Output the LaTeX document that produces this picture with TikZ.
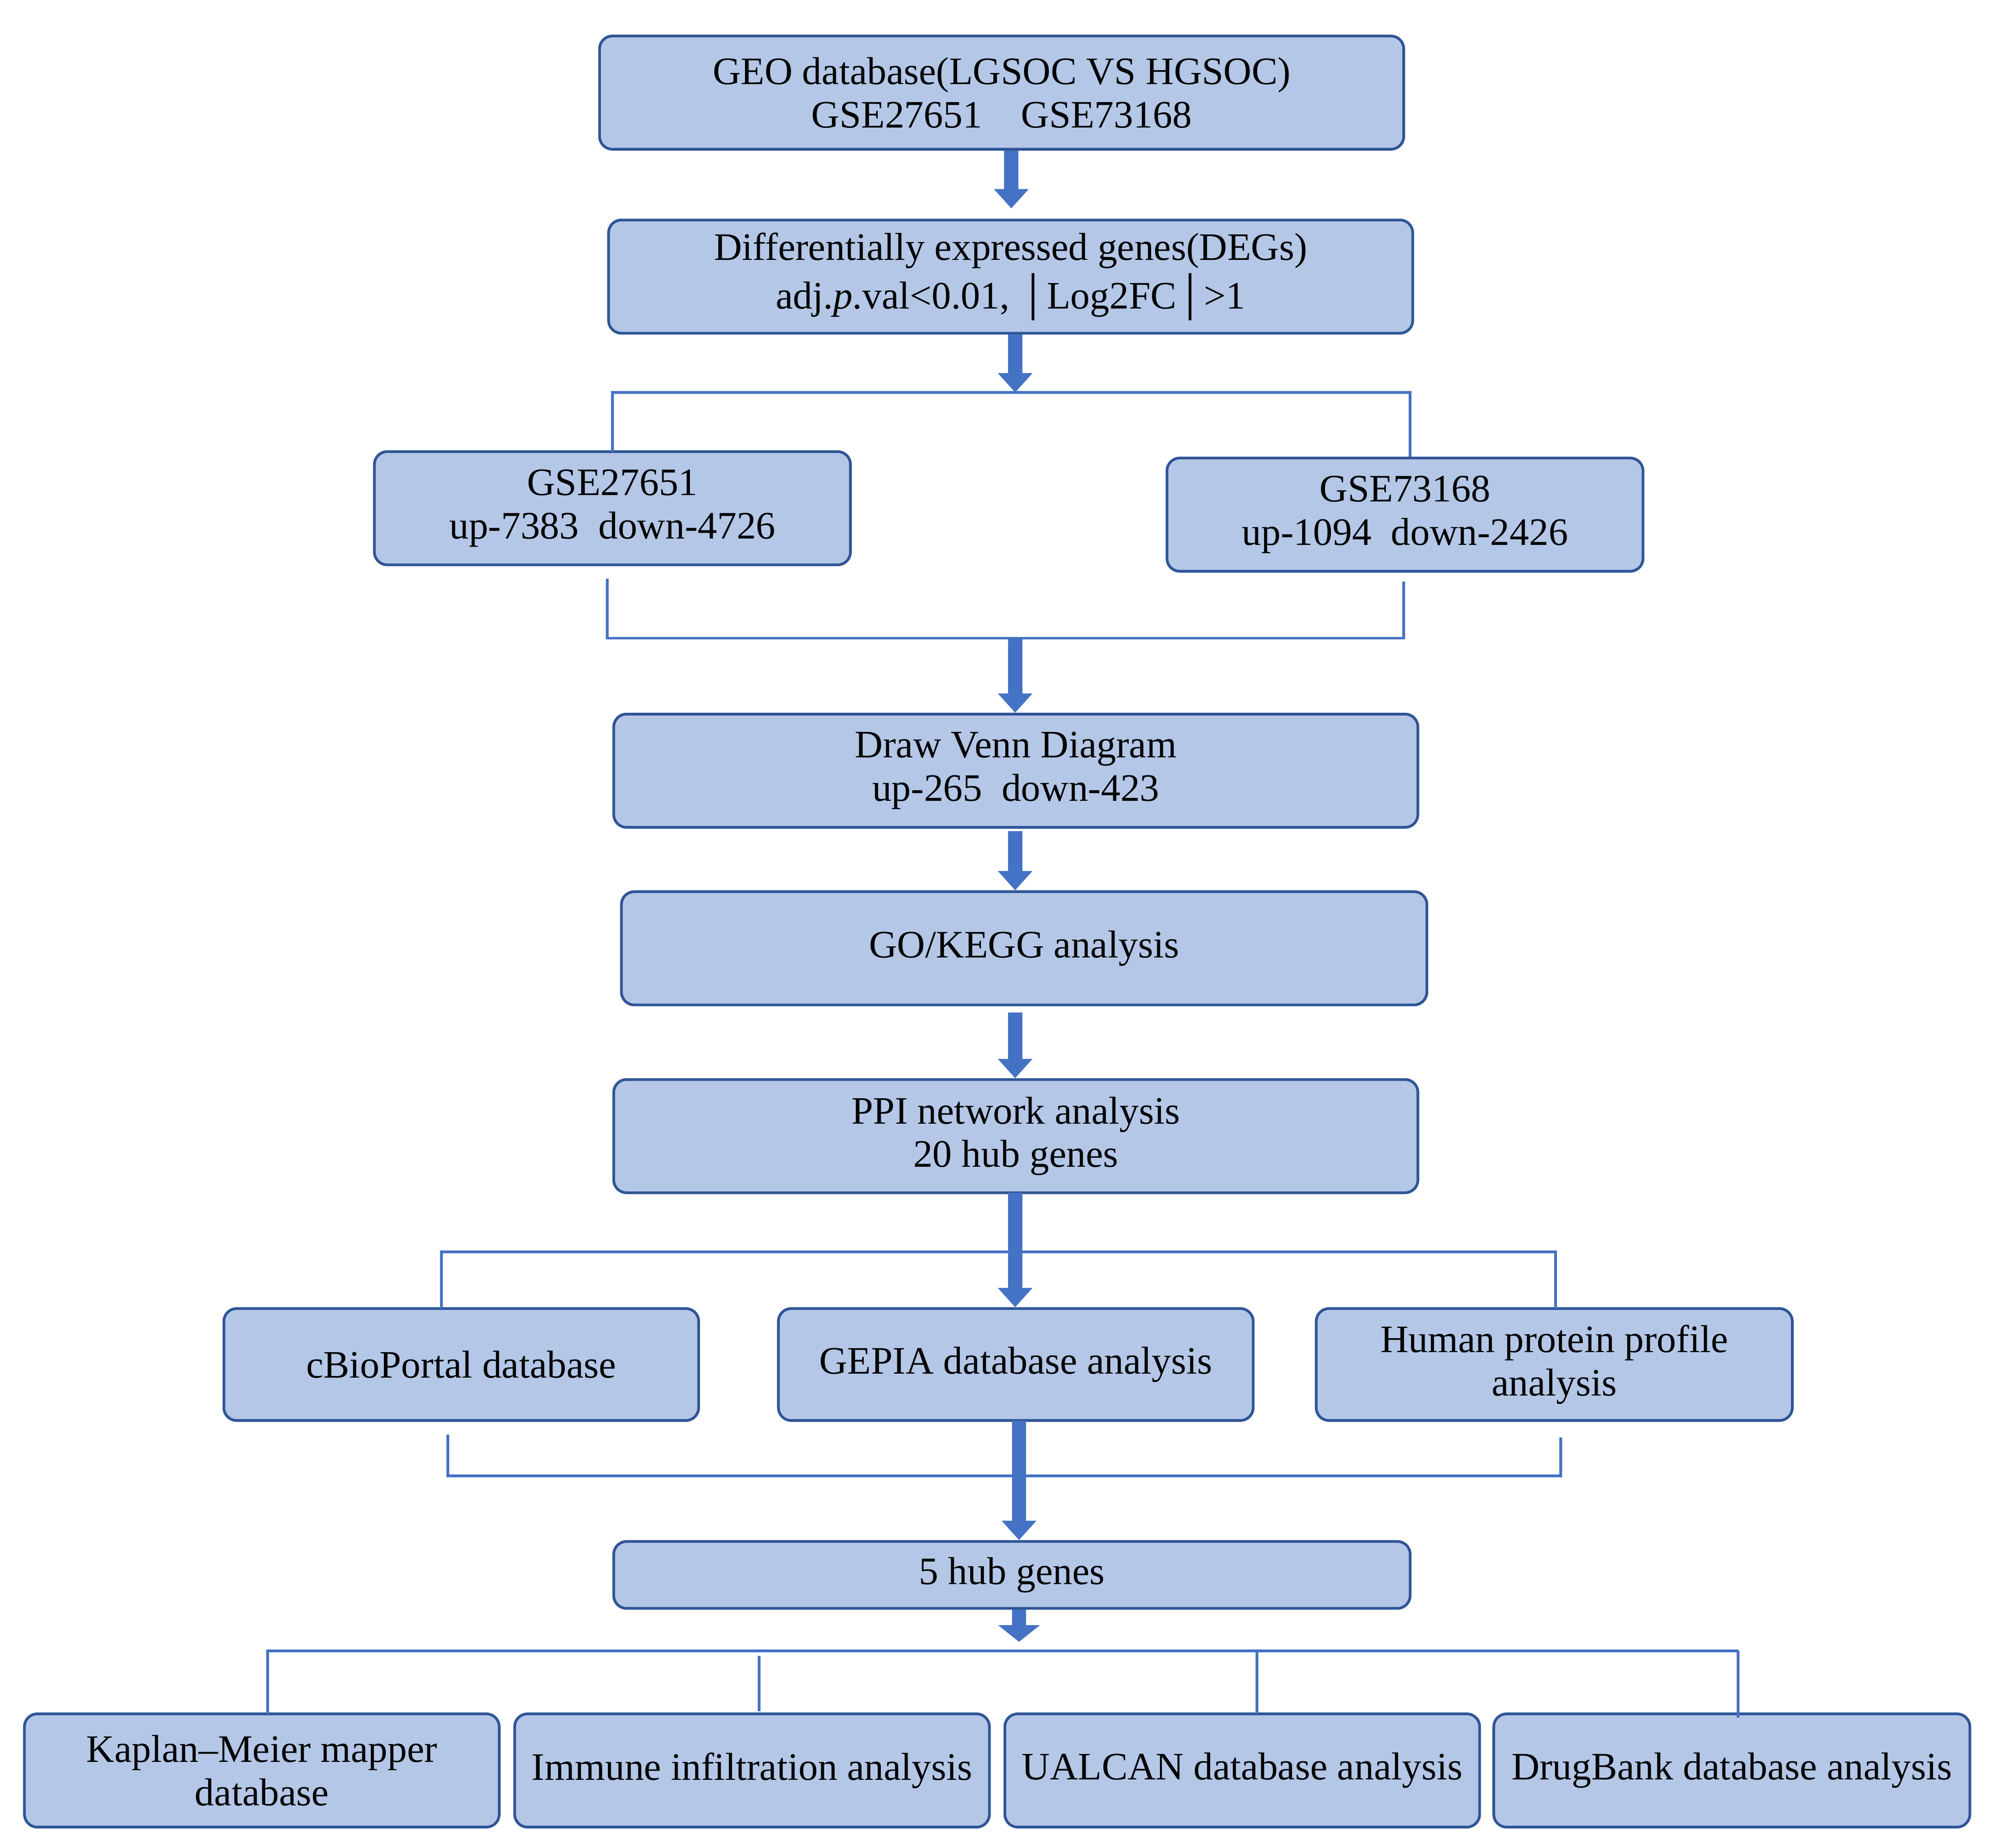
\documentclass[tikz,border=0pt]{standalone}
\usepackage{fontspec}
\setmainfont{Liberation Serif}
\usetikzlibrary{arrows.meta}
\definecolor{bfill}{RGB}{180,199,231}
\definecolor{bdraw}{RGB}{47,85,151}
\definecolor{afill}{RGB}{68,114,196}
\tikzset{
 box/.style={draw=bdraw,fill=bfill,rounded corners=0.1cm,line width=0.6pt,align=center,font=\fontsize{8.6}{9.6}\selectfont,inner sep=0pt},
 big/.style={-{Triangle[width=0.26cm,length=0.15cm]},line width=0.11cm,draw=afill},
 br/.style={draw=afill,line width=0.6pt}
}
\newcommand\bx[6]{\node[box,minimum width=#4cm-#2cm,minimum height=#5cm-#3cm] (#1) at ({(#2+#4)/2},{-(#3+#5)/2}) {#6};}
\begin{document}
\begin{tikzpicture}
\useasboundingbox (0,0) rectangle (15.49,-14.36);
\bx{a}{4.66}{0.28}{10.91}{1.16}{GEO database(LGSOC VS HGSOC)\\GSE27651\quad GSE73168}
\bx{b}{4.73}{1.71}{10.98}{2.59}{Differentially expressed genes(DEGs)\\adj.\textit{p}.val<0.01, │Log2FC│>1}
\bx{c}{2.91}{3.51}{6.61}{4.39}{GSE27651\\up-7383\ \ down-4726}
\bx{d}{9.07}{3.56}{12.77}{4.44}{GSE73168\\up-1094\ \ down-2426}
\bx{e}{4.77}{5.55}{11.02}{6.43}{Draw Venn Diagram\\up-265\ \ down-423}
\bx{f}{4.83}{6.93}{11.09}{7.81}{GO/KEGG analysis}
\bx{g}{4.77}{8.39}{11.02}{9.27}{PPI network analysis\\20 hub genes}
\bx{h}{1.74}{10.17}{5.43}{11.04}{cBioPortal database}
\bx{i}{6.05}{10.17}{9.74}{11.04}{GEPIA database analysis}
\bx{j}{10.23}{10.17}{13.93}{11.04}{Human protein profile\\analysis}
\bx{k}{4.77}{11.98}{10.96}{12.50}{5 hub genes}
\bx{l}{0.19}{13.32}{3.88}{14.20}{Kaplan--Meier mapper\\database}
\bx{m}{4.00}{13.32}{7.69}{14.20}{Immune infiltration analysis}
\bx{n}{7.81}{13.32}{11.50}{14.20}{UALCAN database analysis}
\bx{o}{11.61}{13.32}{15.31}{14.20}{DrugBank database analysis}
% arrows
\coordinate (a1) at (7.86,-1.62);
\draw[big] (a.south -| a1) -- (a1);
\coordinate (b1) at (7.89,-3.05);
\draw[big] (b.south -| b1) -- (b1);
\draw[br] (4.76,-3.51) -- (4.76,-3.05) -- (10.96,-3.05) -- (10.96,-3.55);
\draw[br] (4.72,-4.50) -- (4.72,-4.96) -- (10.91,-4.96) -- (10.91,-4.52);
\coordinate (c0) at (7.89,-4.96);
\draw[big] (c0) -- (e.north -| c0);
\coordinate (e1) at (7.89,-6.46);
\draw[big] (e1) -- (f.north -| e1);
\coordinate (f1) at (7.89,-7.87);
\draw[big] (f1) -- (g.north -| f1);
\draw[br] (3.43,-10.17) -- (3.43,-9.73) -- (12.09,-9.73) -- (12.09,-10.17);
\coordinate (g1) at (7.89,-9.27);
\draw[big] (g1) -- (i.north -| g1);
\draw[br] (3.48,-11.15) -- (3.48,-11.47) -- (12.13,-11.47) -- (12.13,-11.17);
\coordinate (i1) at (7.92,-11.04);
\draw[big] (i1) -- (k.north -| i1);
\coordinate (k1) at (7.92,-12.51);
\draw[-{Triangle[width=0.32cm,length=0.13cm]},line width=0.11cm,draw=afill] (k1) -- (7.92,-12.76);
\draw[br] (2.08,-13.32) -- (2.08,-12.83) -- (13.51,-12.83);
\draw[br] (5.90,-12.87) -- (5.90,-13.30);
\draw[br] (9.77,-12.83) -- (9.77,-13.32);
\draw[br] (13.51,-12.83) -- (13.51,-13.35);
\end{tikzpicture}
\end{document}
